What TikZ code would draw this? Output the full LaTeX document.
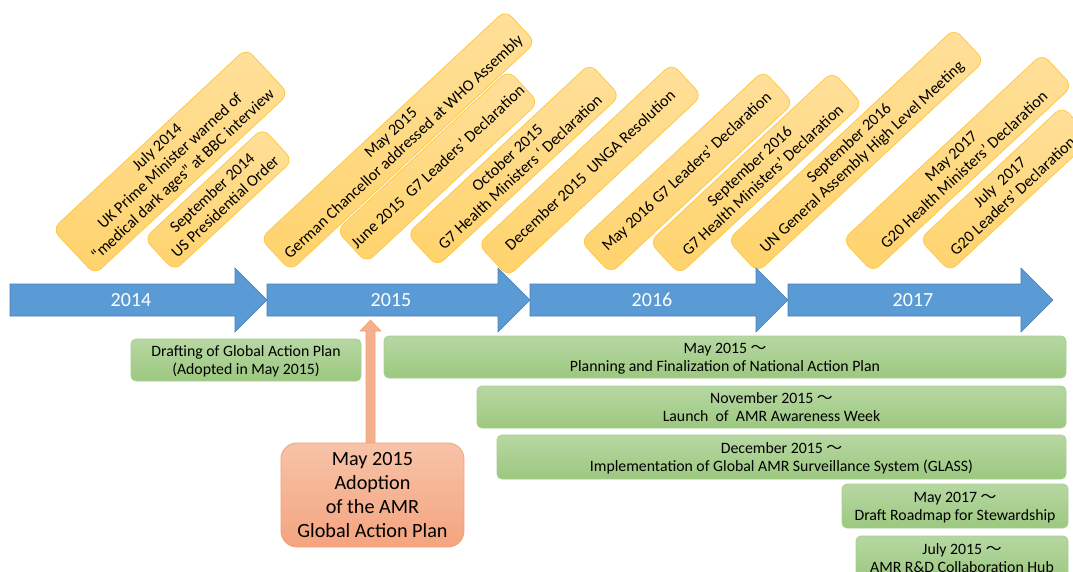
\documentclass[tikz,border=0pt]{standalone}
\usepackage{fontspec}
\setmainfont{Carlito}
\newfontfamily\cjk{Noto Sans CJK JP}
\usetikzlibrary{calc}
\definecolor{ytop}{HTML}{FFE09A}
\definecolor{ybot}{HTML}{FFD36C}
\definecolor{ybd}{HTML}{FFC845}
\definecolor{gtop}{HTML}{B7D7A3}
\definecolor{gbot}{HTML}{9CC87F}
\definecolor{gbd}{HTML}{A6CF8C}
\definecolor{otop}{HTML}{F7C3A8}
\definecolor{obot}{HTML}{F4A47F}
\definecolor{obd}{HTML}{F4A070}
\definecolor{afill}{HTML}{F4B08E}
\definecolor{bfill}{HTML}{5B9BD5}
\definecolor{bbd}{HTML}{4A7FB5}
\newcommand{\wave}{\smash{\cjk ～}}
\begin{document}
\begin{tikzpicture}[x=1pt,y=-1pt,
  yellowbox/.style={draw=ybd, line width=0.8pt, rounded corners=9pt,
    top color=ytop, bottom color=ybot, minimum height=44pt, inner sep=1pt,
    align=center, font=\fontsize{16.2}{19}\selectfont, rotate=43},
  greenbox/.style={draw=gbd, line width=0.8pt, rounded corners=5pt,
    top color=gtop, bottom color=gbot, minimum height=42pt, inner sep=1pt,
    align=center, text depth=-1pt, font=\fontsize{15.8}{18}\selectfont},
  orangebox/.style={draw=obd, line width=0.8pt, rounded corners=16pt,
    top color=otop, bottom color=obot, inner sep=2pt,
    align=center, text depth=-1pt, font=\fontsize{20.2}{24}\selectfont},
  yearlabel/.style={text=white, font=\fontsize{20}{24}\selectfont, inner sep=0pt},
  bluearrow/.style={fill=bfill, draw=bbd, line width=0.6pt}
]
\useasboundingbox (0,0) rectangle (1073,572);

% yellow event boxes
\node[yellowbox, minimum width=265pt, minimum height=62pt] (e1) at (170.5,161.5)
  {July 2014\\UK Prime Minister warned of\\“medical dark ages” at BBC interview};
\node[yellowbox, minimum width=162pt] (e2) at (218.5,199.5) {September 2014\\US Presidential Order};
\node[yellowbox, minimum width=335pt] (e3) at (398,140.5) {May 2015\\German Chancellor addressed at WHO Assembly};
\node[yellowbox, minimum width=235pt] (e4) at (437.5,166.5) {June 2015\ \ G7 Leaders’ Declaration};
\node[yellowbox, minimum width=250pt] (e5) at (513.5,165) {October 2015\\G7 Health Ministers ‘ Declaration};
\node[yellowbox, minimum width=265pt] (e6) at (590,170) {December 2015\ \ UNGA Resolution};
\node[yellowbox, minimum width=250pt] (e7) at (687,172) {May 2016 G7 Leaders’ Declaration};
\node[yellowbox, minimum width=250pt] (e8) at (756,173) {September 2016\\G7 Health Ministers’ Declaration};
\node[yellowbox, minimum width=310pt] (e9) at (856,150.5) {September 2016\\UN General Assembly High Level Meeting};
\node[yellowbox, minimum width=273pt] (e10) at (957.5,163) {May 2017\\G20 Health Ministers’ Declaration};
\node[yellowbox, minimum width=195pt] (e11) at (1006,189) {July\ \ 2017\\G20 Leaders’ Declaration};

% blue year arrows
\foreach \a/\b in {10/267, 267/530, 530/788, 788/1053}{
  \draw[bluearrow] (\a,284) -- ({\b-32},284) -- ({\b-32},268) -- (\b,300)
    -- ({\b-32},332) -- ({\b-32},316) -- (\a,316) -- cycle;
}
\node[yearlabel] (y2014) at (131,300) {2014};
\node[yearlabel] (y2015) at (391,300) {2015};
\node[yearlabel] (y2016) at (652,300) {2016};
\node[yearlabel] (y2017) at (913,300) {2017};

% green activity boxes
\node[greenbox, minimum width=230pt] (g1) at (246,360) {Drafting of Global Action Plan\\(Adopted in May 2015)};
\node[greenbox, minimum width=682pt] (g2) at (725,357) {May 2015 \wave\\Planning and Finalization of National Action Plan};
\node[greenbox, minimum width=589pt] (g3) at (771.5,407) {November 2015 \wave\\Launch\ \ of\ \ AMR Awareness Week};
\node[greenbox, minimum width=569pt, minimum height=44pt] (g4) at (781.5,457) {December 2015 \wave\\Implementation of Global AMR Surveillance System (GLASS)};
\node[greenbox, minimum width=226pt, minimum height=44pt] (g5) at (955,506) {May 2017 \wave\\Draft Roadmap for Stewardship};
\node[greenbox, minimum width=212pt, minimum height=44pt] (g6) at (962,558) {July 2015 \wave\\AMR R\&D Collaboration Hub};

% orange adoption box and arrow
\coordinate (tip) at (370.5,320);
\node[orangebox, minimum width=183pt, minimum height=104pt] (adopt) at (372.5,495)
  {May 2015\\Adoption\\of the AMR\\Global Action Plan};
\coordinate (abase) at (adopt.north -| tip);
\draw[fill=afill, draw=obd, line width=0.6pt]
  ($(abase)+(-4.5,0)$) -- ($(tip)+(-4.5,11)$) -- ($(tip)+(-10.5,11)$) -- (tip)
  -- ($(tip)+(10.5,11)$) -- ($(tip)+(4.5,11)$) -- ($(abase)+(4.5,0)$) -- cycle;
\end{tikzpicture}
\end{document}
